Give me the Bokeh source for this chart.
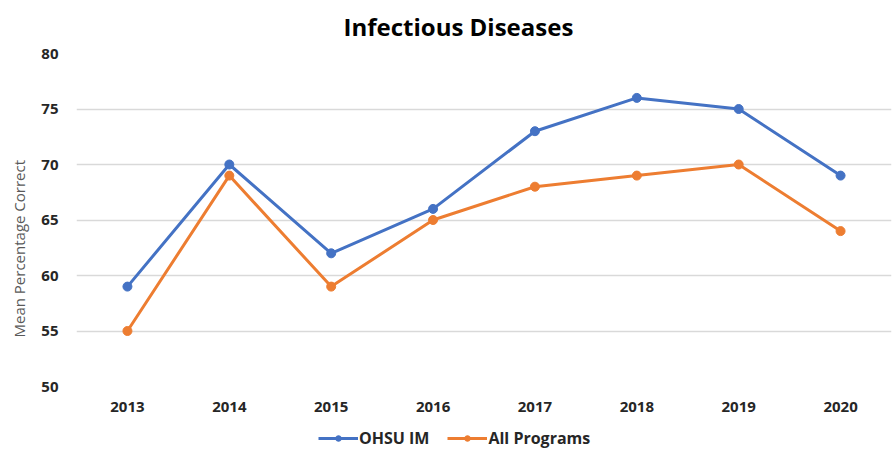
from bokeh.plotting import figure
from bokeh.layouts import column
from bokeh.models import Range1d, FactorRange, Legend, LegendItem, SingleIntervalTicker, Title
from bokeh.embed import file_html
from bokeh.resources import INLINE

years = ["2013", "2014", "2015", "2016", "2017", "2018", "2019", "2020"]
ohsu_im = [59, 70, 62, 66, 73, 76, 75, 69]
all_programs = [55, 69, 59, 65, 68, 69, 70, 64]
series_names = ["OHSU IM", "All Programs"]

BLUE = "#4472C4"
ORANGE = "#ED7D31"
FONT = "Open Sans"
TEXT = "#262626"

p = figure(
    width=892, height=425,
    x_range=FactorRange(*years),
    y_range=Range1d(50, 80),
    output_backend="svg", toolbar_location=None,
    min_border_left=76, min_border_right=1,
    min_border_top=52, min_border_bottom=39,
)

# chart title, positioned from the left edge of the frame
p.title.text = "Infectious Diseases"
p.title.align = "left"
p.title.offset = 267
p.title.vertical_align = "top"
p.title.standoff = 18
p.title.text_font = FONT
p.title.text_font_size = "24px"
p.title.text_font_style = "bold"
p.title.text_color = "#000000"

p.outline_line_color = None
p.background_fill_color = "white"
p.border_fill_color = "white"

p.xgrid.grid_line_color = None
p.ygrid.grid_line_color = "#D9D9D9"
p.ygrid.grid_line_width = 1.5

p.yaxis.ticker = SingleIntervalTicker(interval=5)
for ax in (p.xaxis[0], p.yaxis[0]):
    ax.axis_line_color = None
    ax.major_tick_line_color = None
    ax.minor_tick_line_color = None
    ax.major_label_text_font = FONT
    ax.major_label_text_font_size = "15px"
    ax.major_label_text_font_style = "bold"
    ax.major_label_text_color = TEXT

p.yaxis.major_label_standoff = 12
p.xaxis.major_label_standoff = 9

# vertical axis title
ytitle = Title(
    text="Mean Percentage Correct", align="left", offset=49,
    vertical_align="top", standoff=16,
    text_font=FONT, text_font_size="15px", text_font_style="normal",
    text_color="#595959",
)
p.add_layout(ytitle, "left")

l1 = p.line(years, ohsu_im, line_color=BLUE, line_width=3)
c1 = p.scatter(years, ohsu_im, size=9, fill_color=BLUE, line_color=BLUE)
l2 = p.line(years, all_programs, line_color=ORANGE, line_width=3)
c2 = p.scatter(years, all_programs, size=9, fill_color=ORANGE, line_color=ORANGE)

# legend strip under the chart
leg = figure(
    width=892, height=24,
    x_range=Range1d(0, 1), y_range=Range1d(0, 1),
    x_axis_location=None, y_axis_location=None,
    output_backend="svg", toolbar_location=None,
    min_border=0,
)
leg.outline_line_color = None
leg.grid.grid_line_color = None
idx = list(range(len(years)))
g1 = [leg.line(idx, ohsu_im, line_color=BLUE, line_width=3),
      leg.scatter(idx, ohsu_im, size=9, fill_color=BLUE, line_color=BLUE)]
g2 = [leg.line(idx, all_programs, line_color=ORANGE, line_width=3),
      leg.scatter(idx, all_programs, size=9, fill_color=ORANGE, line_color=ORANGE)]

legend = Legend(
    items=[LegendItem(label=series_names[0], renderers=g1),
           LegendItem(label=series_names[1], renderers=g2)],
    orientation="horizontal", location=(242, 0),
    label_text_font=FONT, label_text_font_size="16px",
    label_text_font_style="bold", label_text_color=TEXT,
    glyph_width=40, glyph_height=14, label_height=14,
    spacing=18, label_standoff=1,
    border_line_color=None, background_fill_alpha=0,
    padding=0, margin=0,
)
leg.add_layout(legend, "center")

layout = column(p, leg, spacing=0)
open("out.html", "w").write(file_html(layout, INLINE))
